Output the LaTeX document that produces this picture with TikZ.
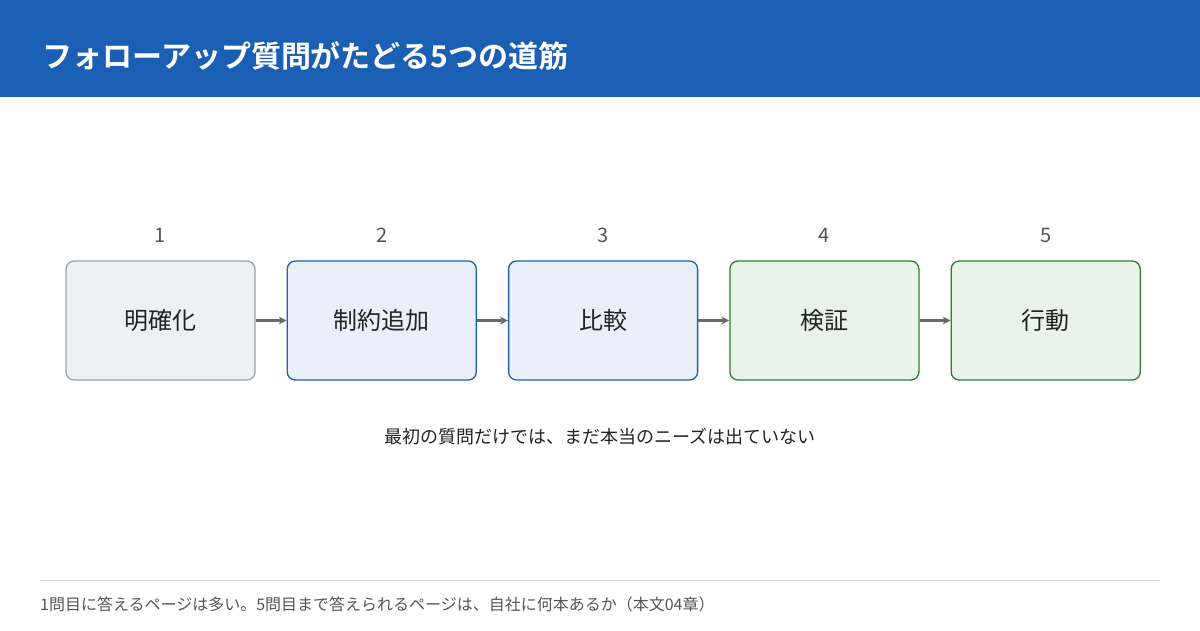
\documentclass[tikz,border=0pt]{standalone}
\usepackage{fontspec}
\setmainfont{Noto Sans CJK JP}
\newfontfamily\jpbold{Noto Sans CJK JP Bold}
\usetikzlibrary{%
	positioning,
	arrows.meta
}
\definecolor{hdrblue}{HTML}{1B5FB4}
\definecolor{grayfill}{HTML}{EEF1F4}
\definecolor{graydraw}{HTML}{9AA3AD}
\definecolor{bluefill}{HTML}{EAF0FA}
\definecolor{greenfill}{HTML}{E9F4E8}
\definecolor{greendraw}{HTML}{2E7D32}
\definecolor{txtdark}{HTML}{222222}
\definecolor{txtgray}{HTML}{555555}
\definecolor{arrgray}{HTML}{666A70}
\begin{document}
\begin{tikzpicture}[x=1pt,y=-1pt,
		SStep/.style={draw,shape=rectangle,rounded corners=8pt,line width=1.3pt,minimum width=189pt,minimum height=119pt,font=\fontsize{24}{28}\selectfont,text=txtdark},
		SGray/.style={SStep,fill=grayfill,draw=graydraw},
		SBlue/.style={SStep,fill=bluefill,draw=hdrblue},
		SGreen/.style={SStep,fill=greenfill,draw=greendraw},
		num/.style={font=\fontsize{20}{24}\selectfont,text=txtgray},
		link/.style={-{Stealth[length=8pt,width=8pt]},line width=3pt,draw=arrgray,shorten <=0pt}
	]
	\useasboundingbox (0,0) rectangle (1200,630);
	
	%header
	\fill[hdrblue] (0,0) rectangle (1200,97);
	\node (title) [anchor=west,text=white,font=\jpbold\fontsize{30}{34}\selectfont,inner sep=0pt] at (42,56) {フォローアップ質問がたどる5つの道筋};
	
	%steps
	\node (s1) [SGray] at (160.5,320.5) {明確化};
	\node (s2) [SBlue, right=31pt of s1] {制約追加};
	\node (s3) [SBlue, right=31pt of s2] {比較};
	\node (s4) [SGreen, right=31pt of s3] {検証};
	\node (s5) [SGreen, right=31pt of s4] {行動};
	
	\foreach \i in {1,...,5}{
		\node (n\i) [num, above=14pt of s\i] {\i};
	}
	
	\draw [link] (s1) -- (s2);
	\draw [link] (s2) -- (s3);
	\draw [link] (s3) -- (s4);
	\draw [link] (s4) -- (s5);
	
	\node (caption) [font=\fontsize{18}{22}\selectfont,text=txtdark] at (600,437) {最初の質問だけでは、まだ本当のニーズは出ていない};
	
	%footer
	\coordinate (fl) at (40,580);
	\coordinate (fr) at (1160,580);
	\draw [black!15,line width=1pt] (fl) -- (fr);
	\node (footer) [anchor=west,inner sep=0pt,font=\fontsize{16}{20}\selectfont,text=txtgray] at (40,604) {1問目に答えるページは多い。5問目まで答えられるページは、自社に何本あるか（本文04章）};
\end{tikzpicture}
\end{document}
